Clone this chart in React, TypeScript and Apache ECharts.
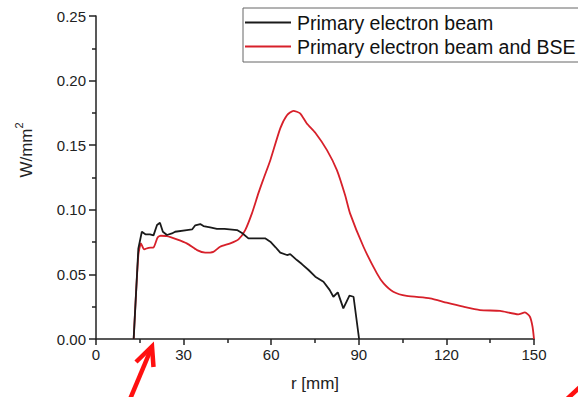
import React, { useEffect, useRef } from "react";
import * as echarts from "echarts";

const xTicks = [0, 30, 60, 90, 120, 150];
const yTicks = [0, 0.05, 0.1, 0.15, 0.2, 0.25];

const seriesNames = ["Primary electron beam", "Primary electron beam and BSE"];

const blackR = [12.9, 14.5, 15.7, 16.9, 18.5, 19.7, 20.9, 21.9, 22.9, 24.3, 26.0, 27.1, 31.1, 32.9, 34.0, 35.7, 36.8, 39.1, 41.4, 44.0, 48.3, 50.0, 52.2, 57.9, 59.7, 61.5, 63.1, 65.4, 66.5, 68.8, 70.5, 72.8, 75.1, 77.9, 80.0, 81.3, 82.8, 84.7, 86.8, 88.2, 90.1];
const blackW = [0, 0.07, 0.083, 0.081, 0.081, 0.0802, 0.0882, 0.09, 0.083, 0.0805, 0.0817, 0.083, 0.0843, 0.0848, 0.088, 0.089, 0.0874, 0.0864, 0.0853, 0.0852, 0.0843, 0.082, 0.0779, 0.0779, 0.0753, 0.071, 0.0668, 0.065, 0.0657, 0.0611, 0.058, 0.0534, 0.0482, 0.0443, 0.038, 0.0327, 0.0361, 0.0237, 0.0335, 0.0327, 0];

const redR = [12.9, 14.5, 15.4, 16.5, 18.0, 19.7, 21.1, 22.2, 24.3, 27.7, 31.1, 34.6, 37.4, 40.2, 42.5, 46.0, 48.8, 51.1, 53.4, 55.6, 57.2, 59.7, 63.1, 65.4, 67.6, 69.9, 72.2, 75.1, 79.1, 82.5, 85.3, 87.0, 91.6, 96.2, 98.5, 101.8, 106.4, 114.4, 120.1, 125.8, 131.5, 138.4, 144.6, 146.9, 148.6, 149.5, 150];
const redW = [0, 0.065, 0.074, 0.0694, 0.0706, 0.0709, 0.0786, 0.0799, 0.0797, 0.0771, 0.074, 0.0688, 0.0668, 0.0675, 0.0714, 0.074, 0.0771, 0.0843, 0.0972, 0.1127, 0.123, 0.1384, 0.163, 0.1732, 0.1766, 0.1746, 0.1668, 0.1596, 0.1462, 0.1307, 0.1114, 0.0972, 0.0714, 0.0508, 0.043, 0.0366, 0.0333, 0.0315, 0.0281, 0.025, 0.0224, 0.0217, 0.0191, 0.0206, 0.0172, 0.0095, 0];

const FONT = "'Liberation Sans', Arial, sans-serif";
const BLACK = "#1a1a1a";
const RED = "#d7202a";
const AXIS = "#222";

export default function App() {
  const ref = useRef<HTMLDivElement>(null);
  useEffect(() => {
    if (!ref.current) return;
    const chart = echarts.init(ref.current, null, { renderer: "svg" });
    const pairs = (xs: number[], ys: number[]) => xs.map((x, i) => [x, ys[i]]);
    chart.setOption({
      animation: false,
      backgroundColor: "#fff",
      textStyle: { fontFamily: FONT },
      grid: { left: 96, right: 44, top: 16, bottom: 58 },
      xAxis: {
        type: "value",
        min: xTicks[0],
        max: xTicks[xTicks.length - 1],
        interval: 30,
        name: "r [mm]",
        nameLocation: "middle",
        nameGap: 36,
        nameTextStyle: { fontSize: 17, color: AXIS, fontFamily: FONT },
        axisLine: { show: true, lineStyle: { color: AXIS, width: 1.5 } },
        axisTick: { show: true, length: 6, lineStyle: { color: AXIS, width: 1.5 } },
        minorTick: { show: true, splitNumber: 2, length: 4, lineStyle: { color: AXIS, width: 1.5 } },
        axisLabel: { fontSize: 15, color: AXIS, margin: 8, fontFamily: FONT },
        splitLine: { show: false },
      },
      yAxis: {
        type: "value",
        min: yTicks[0],
        max: yTicks[yTicks.length - 1],
        interval: 0.05,
        axisLine: { show: true, lineStyle: { color: AXIS, width: 1.5 } },
        axisTick: { show: true, length: 7, lineStyle: { color: AXIS, width: 1.5 } },
        minorTick: { show: true, splitNumber: 2, length: 4, lineStyle: { color: AXIS, width: 1.5 } },
        axisLabel: { fontSize: 15, color: AXIS, margin: 10, fontFamily: FONT, formatter: (v: number) => v.toFixed(2) },
        splitLine: { show: false },
      },
      series: [
        {
          name: seriesNames[0],
          type: "line",
          symbol: "none",
          data: pairs(blackR, blackW),
          lineStyle: { color: BLACK, width: 1.8 },
          itemStyle: { color: BLACK },
          z: 3,
        },
        {
          name: seriesNames[1],
          type: "line",
          symbol: "none",
          smooth: 0.2,
          data: pairs(redR, redW),
          lineStyle: { color: RED, width: 1.8 },
          itemStyle: { color: RED },
          z: 2,
        },
      ],
      graphic: [
        {
          type: "text",
          x: 24,
          y: 150,
          rotation: Math.PI / 2,
          style: {
            text: "{a|W/mm}{b|2}",
            fill: AXIS,
            align: "center",
            verticalAlign: "middle",
            rich: {
              a: { fontSize: 17, fontFamily: FONT, lineHeight: 22, verticalAlign: "bottom", fill: AXIS },
              b: { fontSize: 11, fontFamily: FONT, lineHeight: 22, verticalAlign: "top", fill: AXIS },
            },
          },
        },
        {
          type: "rect",
          shape: { x: 243, y: 8, width: 400, height: 54 },
          style: { fill: "#fff", stroke: "#666", lineWidth: 1 },
          z: 10,
        },
        {
          type: "line",
          shape: { x1: 245, y1: 22.5, x2: 291, y2: 22.5 },
          style: { stroke: BLACK, lineWidth: 1.8 },
          z: 11,
        },
        {
          type: "text",
          x: 297,
          y: 23,
          style: { text: seriesNames[0], font: `19.5px ${FONT}`, fill: "#111", verticalAlign: "middle" },
          z: 11,
        },
        {
          type: "line",
          shape: { x1: 245, y1: 46.5, x2: 291, y2: 46.5 },
          style: { stroke: RED, lineWidth: 1.8 },
          z: 11,
        },
        {
          type: "text",
          x: 297,
          y: 47,
          style: { text: seriesNames[1], font: `19.5px ${FONT}`, fill: "#111", verticalAlign: "middle" },
          z: 11,
        },
        {
          type: "line",
          shape: { x1: 130.5, y1: 398, x2: 151.5, y2: 348 },
          style: { stroke: "#ff1010", lineWidth: 4.5 },
          z: 12,
        },
        {
          type: "polyline",
          shape: { points: [[136, 362], [152, 346.5], [153.5, 367]] },
          style: { stroke: "#ff1010", lineWidth: 4.5, fill: "none" },
          z: 12,
        },
        {
          type: "line",
          shape: { x1: 567, y1: 399, x2: 580, y2: 387 },
          style: { stroke: "#ff1010", lineWidth: 4.5 },
          z: 12,
        },
      ],
    });
    return () => chart.dispose();
  }, []);
  return <div ref={ref} style={{ position: "fixed", left: 0, top: 0, width: 578, height: 397 }} />;
}
